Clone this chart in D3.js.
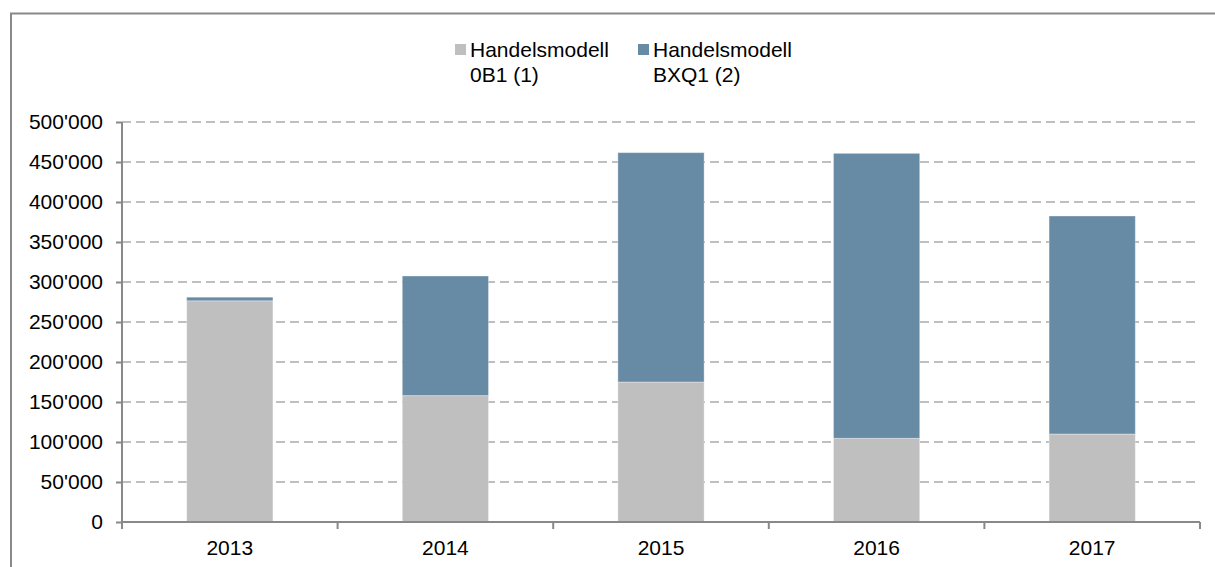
<!DOCTYPE html>
<html><head><meta charset="utf-8">
<script src="https://cdn.jsdelivr.net/npm/d3@7"></script>
<style>html,body{margin:0;padding:0;background:#fff;} svg{display:block;font-family:"Liberation Sans",Arial,sans-serif;}</style>
</head><body>
<svg id="c" width="1215" height="567"></svg>
<script>
const categories = ["2013","2014","2015","2016","2017"];
const seriesNames = [["Handelsmodell","0B1 (1)"],["Handelsmodell","BXQ1 (2)"]];
const seriesKeys = ["s1","s2"];
const values0B1 = [276500, 158000, 175000, 104600, 110000];
const valuesBXQ1 = [4500, 149500, 286700, 356200, 272500];
const yTicks = [0,50000,100000,150000,200000,250000,300000,350000,400000,450000,500000];
const colors = ["#BFBFBF","#678AA5"];

(function(){
const svg = d3.select("#c");
const mLeft = 122, mRight = 1200, mTop = 122, mBottom = 522;

// frame
svg.append("rect").attr("x",11).attr("y",13.5).attr("width",1230).attr("height",600)
  .attr("fill","none").attr("stroke","#898989").attr("stroke-width",2);

const x = d3.scaleBand().domain(categories).range([mLeft,mRight]).paddingInner(0.6).paddingOuter(0.3);
const y = d3.scaleLinear().domain([0,500000]).range([mBottom,mTop]);

// gridlines
svg.append("g").selectAll("line").data(yTicks.filter(d=>d>0)).join("line")
  .attr("x1",mLeft).attr("x2",mRight).attr("y1",d=>y(d)).attr("y2",d=>y(d))
  .attr("stroke","#BFBFBF").attr("stroke-width",2).attr("stroke-dasharray","9,5");

// stacked bars
const data = categories.map((c,i)=>({cat:c,s1:values0B1[i],s2:valuesBXQ1[i]}));
const stack = d3.stack().keys(seriesKeys)(data);
svg.append("g").selectAll("g").data(stack).join("g").attr("fill",(d,i)=>colors[i])
  .selectAll("rect").data(d=>d).join("rect")
  .attr("x",d=>x(d.data.cat)).attr("width",x.bandwidth())
  .attr("y",d=>y(d[1])).attr("height",d=>y(d[0])-y(d[1]))
  .attr("stroke","#ffffff").attr("stroke-opacity",0.35).attr("stroke-width",1);

// y axis
const yAxis = d3.axisLeft(y).tickValues(yTicks).tickSize(6).tickPadding(13)
  .tickFormat(d=>d3.format(",")(d).replace(/,/g,"'"));
const gy = svg.append("g").attr("transform",`translate(${mLeft},0)`).call(yAxis);
gy.select(".domain").remove();
gy.append("line").attr("x1",0).attr("x2",0).attr("y1",mTop).attr("y2",mBottom+7).attr("stroke","#898989").attr("stroke-width",2);
gy.selectAll(".tick line").attr("stroke","#898989").attr("stroke-width",2);
gy.selectAll(".tick text").attr("font-size",21).attr("fill","#000").attr("font-family","Liberation Sans, Arial, sans-serif");

// x axis
const gx = svg.append("g").attr("transform",`translate(0,${mBottom})`);
gx.append("line").attr("x1",mLeft).attr("x2",mRight).attr("y1",0).attr("y2",0).attr("stroke","#898989").attr("stroke-width",2);
const bounds = categories.map(c=>x(c)-x.step()*x.paddingInner()/2).slice(1).concat([mRight]);
gx.selectAll("line.t").data(bounds).join("line").attr("class","t")
  .attr("x1",d=>d).attr("x2",d=>d).attr("y1",0).attr("y2",7).attr("stroke","#898989").attr("stroke-width",2);
gx.selectAll("text").data(categories).join("text")
  .attr("x",d=>x(d)+x.bandwidth()/2).attr("y",33).attr("text-anchor","middle")
  .attr("font-size",21).attr("fill","#000").text(d=>d);

// legend
const legX = [455, 638];
const lg = svg.append("g");
seriesNames.forEach((lines,i)=>{
  lg.append("rect").attr("x",legX[i]).attr("y",44).attr("width",11).attr("height",11).attr("fill",colors[i]);
  const t = lg.append("text").attr("x",legX[i]+15).attr("y",57).attr("font-size",21).attr("fill","#000");
  lines.forEach((l,j)=>t.append("tspan").attr("x",legX[i]+15).attr("dy",j===0?0:25).text(l));
});
})();
</script>
</body></html>
